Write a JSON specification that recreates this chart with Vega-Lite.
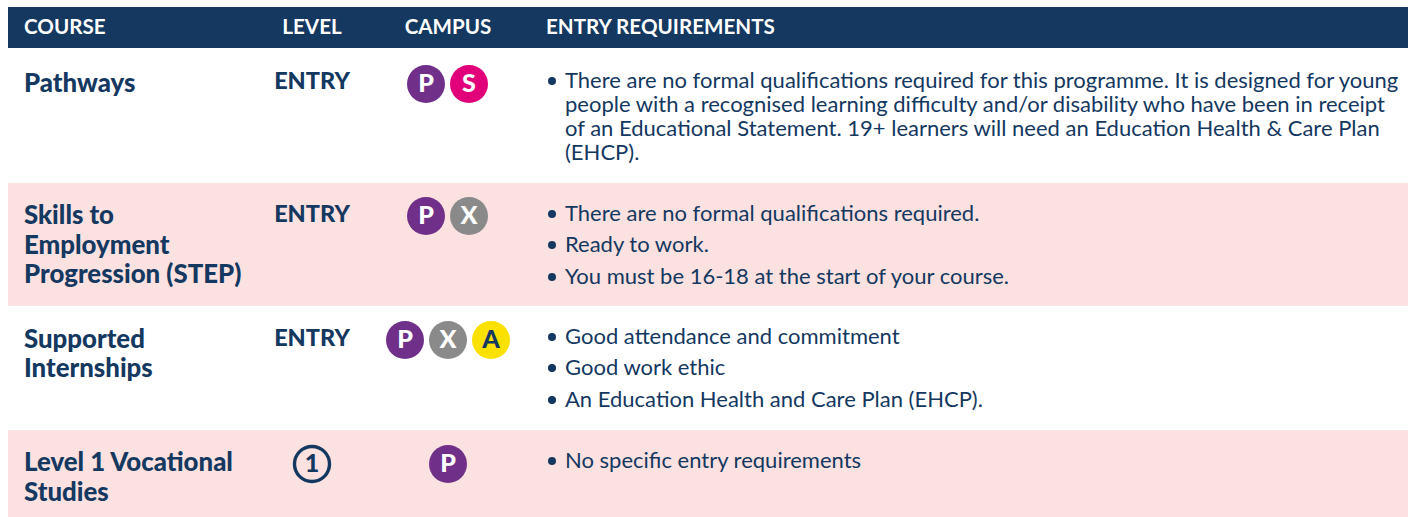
{
"$schema":"https://vega.github.io/schema/vega-lite/v6.json",
"width":1408,"height":517,"padding":0,"autosize":{"type":"none"},
"background":"#ffffff",
"view":{"stroke":null},
"datasets":{
"bands":[
{"band":"header","col":0,"right":11,"slot":0,"bottom":2},
{"band":"row","col":0,"right":11,"slot":9,"bottom":16},
{"band":"row","col":0,"right":11,"slot":23,"bottom":28}
],
"headers":[
{"label":"COURSE","col":1,"slot":1,"anchor":"left"},
{"label":"LEVEL","col":2,"slot":1,"anchor":"center"},
{"label":"CAMPUS","col":5,"slot":1,"anchor":"center"},
{"label":"ENTRY REQUIREMENTS","col":8,"slot":1,"anchor":"left"}
],
"courses":[
{"label":"Pathways","col":1,"slot":4},
{"label":"Skills to","col":1,"slot":11},
{"label":"Employment","col":1,"slot":13},
{"label":"Progression (STEP)","col":1,"slot":14},
{"label":"Supported","col":1,"slot":19},
{"label":"Internships","col":1,"slot":21},
{"label":"Level 1 Vocational","col":1,"slot":25},
{"label":"Studies","col":1,"slot":27}
],
"levels":[
{"label":"ENTRY","col":2,"slot":3},
{"label":"ENTRY","col":2,"slot":10},
{"label":"ENTRY","col":2,"slot":18}
],
"levelNumbers":[{"label":"1","col":2,"slot":26}],
"badges":[
{"campus":"P","col":4,"slot":5},
{"campus":"S","col":6,"slot":5},
{"campus":"P","col":4,"slot":12},
{"campus":"X","col":6,"slot":12},
{"campus":"P","col":3,"slot":20},
{"campus":"X","col":5,"slot":20},
{"campus":"A","col":7,"slot":20},
{"campus":"P","col":5,"slot":26}
],
"bullets":[
{"col":9,"slot":3},{"col":9,"slot":10},{"col":9,"slot":13},{"col":9,"slot":15},
{"col":9,"slot":17},{"col":9,"slot":21},{"col":9,"slot":22},{"col":9,"slot":24}
],
"requirements":[
{"label":"There are no formal qualifications required for this programme. It is designed for young","col":10,"slot":3},
{"label":"people with a recognised learning difficulty and/or disability who have been in receipt","col":10,"slot":6},
{"label":"of an Educational Statement. 19+ learners will need an Education Health & Care Plan","col":10,"slot":7},
{"label":"(EHCP).","col":10,"slot":8},
{"label":"There are no formal qualifications required.","col":10,"slot":10},
{"label":"Ready to work.","col":10,"slot":13},
{"label":"You must be 16-18 at the start of your course.","col":10,"slot":15},
{"label":"Good attendance and commitment","col":10,"slot":17},
{"label":"Good work ethic","col":10,"slot":21},
{"label":"An Education Health and Care Plan (EHCP).","col":10,"slot":22},
{"label":"No specific entry requirements","col":10,"slot":24}
]
},
"encoding":{
 "x":{"field":"col","type":"quantitative","axis":null,"scale":{"domain":[0,1,2,3,4,5,6,7,8,9,10,11],"range":[8,24,312,405,426,448,469,491,546,552,565,1408],"nice":false,"zero":false}},
 "y":{"field":"slot","type":"quantitative","axis":null,"scale":{"domain":[0,1,2,3,4,5,6,7,8,9,10,11,12,13,14,15,16,17,18,19,20,21,22,23,24,25,26,27,28],"range":[7,27.5,48,81,83,84,105,129,153,183,214,215,216,245,274,277,306,337,338,339,340,368,400,430,461,462,464,492,517],"nice":false,"zero":false}}
},
"layer":[
{"data":{"name":"bands"},"mark":{"type":"rect"},
 "encoding":{
  "x2":{"field":"right"},
  "y2":{"field":"bottom"},
  "fill":{"field":"band","type":"nominal","legend":null,"scale":{"domain":["header","row","P","S","X","A"],"range":["#14385f","#fbe1e0","#70308a","#e2007a","#8a8a8a","#fae100"]}}
 }},
{"data":{"name":"headers"},"transform":[{"filter":"datum.anchor==='left'"}],
 "mark":{"type":"text","align":"left","baseline":"middle","font":"Lato","fontSize":20.6,"fontWeight":700,"fill":"#ffffff"},
 "encoding":{"text":{"field":"label"}}},
{"data":{"name":"headers"},"transform":[{"filter":"datum.anchor==='center'"}],
 "mark":{"type":"text","align":"center","baseline":"middle","font":"Lato","fontSize":20.6,"fontWeight":700,"fill":"#ffffff"},
 "encoding":{"text":{"field":"label"}}},
{"data":{"name":"courses"},
 "mark":{"type":"text","align":"left","baseline":"middle","dy":1,"font":"Lato","fontSize":25.8,"fontWeight":900,"fill":"#14385f"},
 "encoding":{"text":{"field":"label"}}},
{"data":{"name":"levels"},
 "mark":{"type":"text","align":"center","baseline":"middle","dy":1,"font":"Lato","fontSize":23.5,"fontWeight":900,"fill":"#14385f"},
 "encoding":{"text":{"field":"label"}}},
{"data":{"name":"levelNumbers"},
 "mark":{"type":"point","shape":"circle","filled":false,"size":1225,"strokeWidth":3.4,"stroke":"#14385f","opacity":1},
 "encoding":{}},
{"data":{"name":"levelNumbers"},
 "mark":{"type":"text","align":"center","baseline":"middle","font":"Lato","fontSize":25,"fontWeight":900,"fill":"#14385f"},
 "encoding":{"text":{"field":"label"}}},
{"data":{"name":"badges"},
 "mark":{"type":"point","shape":"circle","filled":true,"size":1444,"opacity":1},
 "encoding":{
  "fill":{"field":"campus","type":"nominal","legend":null}}},
{"data":{"name":"badges"},
 "mark":{"type":"text","align":"center","baseline":"middle","font":"Lato","fontSize":25,"fontWeight":900},
 "encoding":{"text":{"field":"campus"},
  "color":{"condition":{"test":"datum.campus==='A'","value":"#14385f"},"value":"#ffffff"}}},
{"data":{"name":"bullets"},
 "mark":{"type":"point","shape":"circle","filled":true,"size":64,"opacity":1,"fill":"#14385f"},
 "encoding":{}},
{"data":{"name":"requirements"},
 "mark":{"type":"text","align":"left","baseline":"middle","font":"Lato","fontSize":22,"fontWeight":400,"fill":"#14385f"},
 "encoding":{"text":{"field":"label"}}}
]
}
